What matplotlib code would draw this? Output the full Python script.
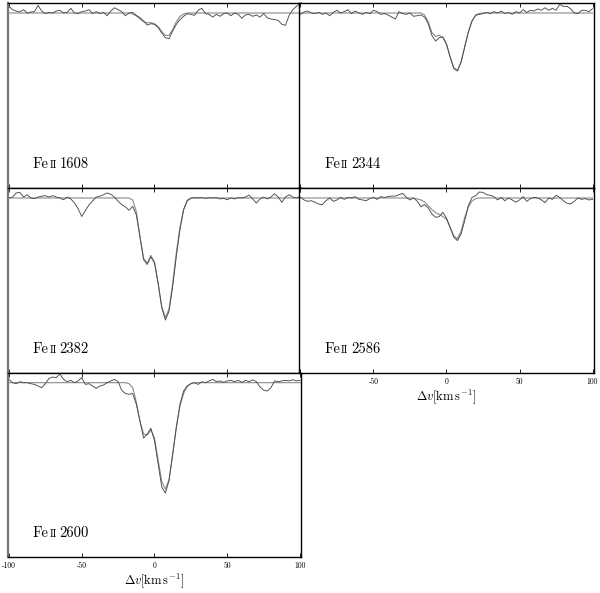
import numpy as np
import matplotlib
matplotlib.use('Agg')
import matplotlib.pyplot as plt

plt.rcParams['font.family'] = 'serif'
plt.rcParams['font.serif'] = ['cmr10', 'DejaVu Serif']
plt.rcParams['mathtext.fontset'] = 'cm'
plt.rcParams['axes.formatter.use_mathtext'] = True

# velocity grid of the spectra (km/s)
velocity = np.arange(-100, 100.1, 2.5)

line_names = ['1608', '2344', '2382', '2586', '2600']

flux_1608 = [1.034, 1.017, 1.010, 1.005, 1.017, 1.000, 1.005, 1.007, 1.039, 1.010,
             0.997, 1.003, 1.000, 1.010, 1.014, 1.000, 1.003, 1.024, 1.000, 0.997,
             1.007, 1.010, 1.017, 0.997, 1.007, 0.997, 1.003, 0.986, 1.010, 1.027,
             1.017, 1.007, 0.986, 1.000, 1.003, 0.988, 0.976, 0.959, 0.938, 0.945,
             0.942, 0.925, 0.897, 0.873, 0.868, 0.908, 0.942, 0.966, 0.983, 0.997,
             0.993, 0.988, 1.014, 1.024, 0.997, 0.993, 0.979, 0.993, 0.983, 0.997,
             1.000, 0.986, 1.000, 0.993, 0.973, 0.990, 0.993, 0.983, 0.990, 0.979,
             0.997, 0.976, 0.969, 0.966, 0.962, 0.942, 0.937, 0.988, 1.017, 1.034,
             1.048]
fit_1608 = [1.0] * 34 + [0.995, 0.985, 0.970, 0.955, 0.950, 0.950, 0.945, 0.930,
                         0.905, 0.885, 0.885, 0.915, 0.955, 0.982, 0.995] + [1.0] * 32

flux_2344 = [0.993, 1.005, 1.010, 1.000, 0.997, 1.003, 0.993, 1.000, 0.986, 1.003,
             1.014, 1.000, 1.007, 1.017, 0.997, 1.010, 1.000, 0.993, 1.003, 0.997,
             1.014, 1.007, 0.993, 0.997, 0.990, 0.979, 0.969, 1.007, 0.997, 0.993,
             1.000, 0.983, 0.986, 0.990, 0.979, 0.945, 0.885, 0.856, 0.873, 0.877,
             0.842, 0.774, 0.714, 0.702, 0.748, 0.825, 0.902, 0.959, 0.988, 0.993,
             0.997, 1.003, 0.997, 1.007, 1.000, 1.010, 0.997, 1.003, 0.993, 1.007,
             1.000, 1.017, 1.003, 1.014, 1.010, 1.021, 1.014, 1.027, 1.014, 1.024,
             1.014, 1.045, 1.034, 1.034, 1.022, 1.000, 0.997, 1.014, 1.014, 1.007,
             1.022]
fit_2344 = [1.0] * 34 + [0.990, 0.955, 0.900, 0.880, 0.885, 0.875, 0.838, 0.775,
                         0.720, 0.705, 0.750, 0.830, 0.905, 0.960, 0.990, 0.998] + [1.0] * 31

flux_2382 = [1.000, 1.005, 1.026, 1.029, 1.005, 1.017, 1.000, 0.997, 1.005, 1.009,
             1.012, 1.005, 1.012, 1.005, 1.000, 0.991, 1.005, 0.995, 0.975, 0.945,
             0.905, 0.935, 0.965, 0.985, 1.005, 1.009, 1.017, 1.026, 1.019, 1.005,
             0.983, 0.966, 0.954, 0.937, 0.957, 0.914, 0.803, 0.683, 0.658, 0.697,
             0.666, 0.563, 0.435, 0.372, 0.418, 0.546, 0.700, 0.837, 0.940, 0.988,
             1.000, 1.002, 1.000, 1.002, 0.998, 1.002, 1.000, 1.002, 0.995, 0.998,
             0.991, 1.000, 0.995, 1.002, 1.000, 1.005, 1.015, 0.995, 0.974, 0.995,
             1.005, 0.995, 1.005, 1.022, 1.005, 0.978, 1.005, 1.017, 1.005, 1.000,
             1.009]
fit_2382 = [1.0] * 34 + [0.990, 0.930, 0.800, 0.690, 0.665, 0.705, 0.670, 0.560, 0.440,
                         0.385, 0.430, 0.560, 0.720, 0.850, 0.940, 0.985, 0.998] + [1.0] * 30

flux_2586 = [1.003, 0.990, 0.983, 0.986, 0.978, 0.969, 0.966, 0.986, 1.000, 0.983,
             0.990, 1.003, 0.993, 1.003, 1.000, 1.007, 0.993, 0.990, 0.986, 0.997,
             1.003, 0.993, 1.007, 1.003, 1.007, 1.010, 1.010, 1.017, 1.024, 1.003,
             0.990, 1.000, 0.983, 0.955, 0.966, 0.949, 0.918, 0.901, 0.904, 0.926,
             0.897, 0.849, 0.798, 0.781, 0.815, 0.884, 0.961, 1.003, 1.012, 1.031,
             1.029, 1.017, 1.014, 1.007, 0.990, 1.003, 0.986, 1.000, 0.990, 0.978,
             0.990, 1.007, 0.983, 0.997, 1.003, 1.000, 0.990, 0.976, 1.000, 0.993,
             1.014, 1.003, 0.986, 0.973, 0.969, 0.983, 1.000, 0.993, 0.997, 0.990,
             0.993]
fit_2586 = [1.0] * 32 + [0.995, 0.990, 0.980, 0.960, 0.940, 0.925, 0.915, 0.905, 0.890,
                         0.850, 0.805, 0.790, 0.830, 0.900, 0.955, 0.985, 0.997] + [1.0] * 32

flux_2600 = [1.017, 1.000, 0.995, 1.005, 1.000, 1.000, 0.995, 0.991, 0.983, 0.974,
             0.995, 1.022, 1.029, 1.026, 1.045, 1.017, 1.005, 1.012, 1.000, 1.009,
             1.026, 0.991, 0.995, 0.983, 0.971, 0.983, 0.988, 1.000, 1.009, 1.017,
             1.005, 0.961, 0.944, 0.940, 0.944, 0.889, 0.803, 0.714, 0.735, 0.765,
             0.700, 0.581, 0.461, 0.430, 0.495, 0.632, 0.769, 0.889, 0.957, 0.983,
             0.995, 1.000, 0.991, 1.005, 1.000, 1.009, 1.017, 1.005, 1.009, 1.002,
             1.009, 1.012, 1.005, 1.012, 1.002, 1.012, 1.005, 1.015, 1.005, 0.978,
             0.961, 0.957, 0.974, 1.009, 1.005, 1.009, 1.012, 1.009, 1.015, 1.009,
             1.012]
fit_2600 = [1.0] * 33 + [0.995, 0.975, 0.900, 0.800, 0.735, 0.730, 0.755, 0.715, 0.600,
                         0.490, 0.450, 0.500, 0.630, 0.770, 0.880, 0.945, 0.980, 0.995] + [1.0] * 30

fluxes = [flux_1608, flux_2344, flux_2382, flux_2586, flux_2600]
fits = [fit_1608, fit_2344, fit_2382, fit_2586, fit_2600]

tick_pos = [-100, -50, 0, 50, 100]
tick_lab = ['-100', '-50', '0', '50', '100']

# panel placement [left, bottom, width, height] in figure fraction
col_x = [(0.0125, 0.490), (0.4983, 0.4917)]
row_y = [(0.6825, 0.312), (0.371, 0.3115), (0.0607, 0.3103)]
cells = [(0, 0), (0, 1), (1, 0), (1, 1), (2, 0)]

fig = plt.figure(figsize=(6.0, 5.93), dpi=100)

for i, name in enumerate(line_names):
    r, c = cells[i]
    ax = fig.add_axes([col_x[c][0], row_y[r][0], col_x[c][1], row_y[r][1]])
    ax.plot(velocity, fits[i], '-', color='#8a8a8a', lw=0.8)
    ax.plot(velocity, fluxes[i], '-', color='#4a4a4a', lw=0.65)
    ax.set_xlim(-101, 101)
    ax.set_ylim(0.1, 1.05)
    ax.set_yticks([])
    ax.set_xticks(tick_pos)
    ax.tick_params(axis='x', direction='in', top=True, bottom=True, length=3,
                   width=0.6, labelsize=5.5, pad=3)
    for s in ax.spines.values():
        s.set_linewidth(1.0)
        s.set_color('black')
    if c == 0:
        ax.spines['left'].set_color('#777777')
        ax.spines['left'].set_linewidth(1.6)

    if name == '2586':
        ax.set_xticklabels([''] + tick_lab[1:])
        ax.set_xlabel(r'$\Delta v[\mathrm{km\,s^{-1}}]$', fontsize=9, labelpad=1)
    elif name == '2600':
        ax.set_xticklabels(tick_lab)
        ax.set_xlabel(r'$\Delta v[\mathrm{km\,s^{-1}}]$', fontsize=9, labelpad=1)
    else:
        ax.set_xticklabels([])

    # "Fe II xxxx" label, roman numeral in small capitals
    lx, ly = 0.085, 0.11
    ax.text(lx, ly, 'Fe', transform=ax.transAxes, fontsize=10.5, va='baseline')
    ax.annotate('II', xy=(lx, ly), xycoords='axes fraction', xytext=(12.2, 0),
                textcoords='offset points', fontsize=7.5, va='baseline')
    ax.annotate(name, xy=(lx, ly), xycoords='axes fraction', xytext=(19.4, 0),
                textcoords='offset points', fontsize=10.5, va='baseline')

fig.savefig('out.png', dpi=100)
